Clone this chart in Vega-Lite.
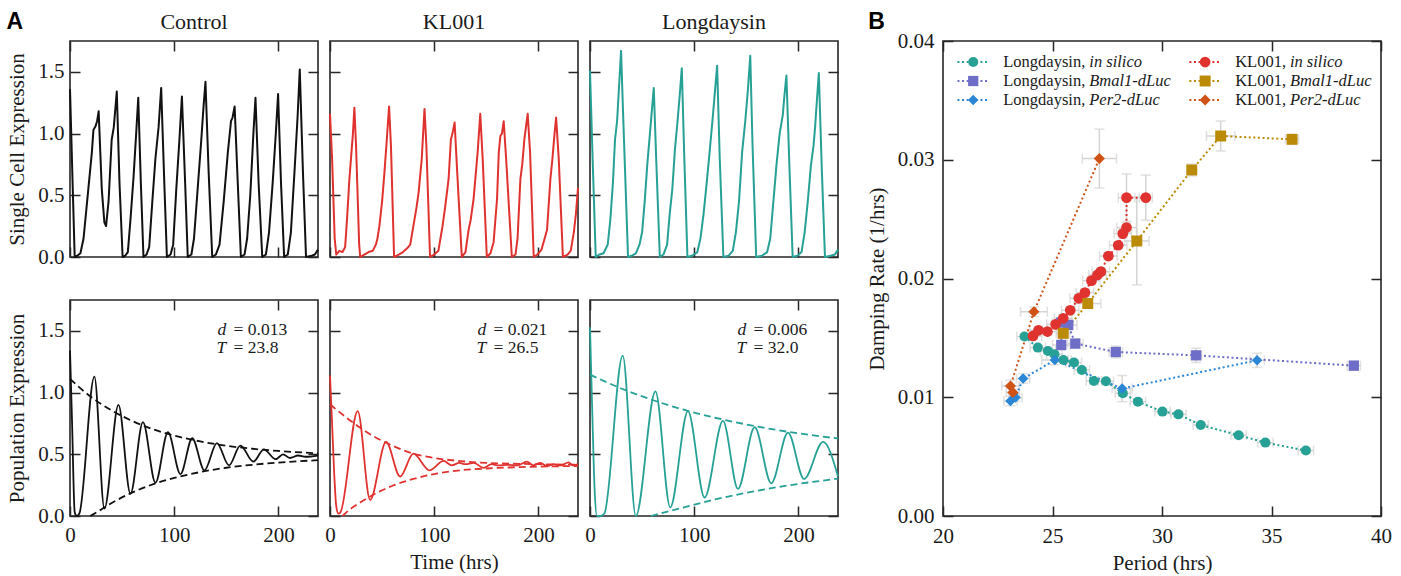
{
"$schema": "https://vega.github.io/schema/vega-lite/v6.json",
"padding": {"left": 5, "top": 9, "right": 0, "bottom": 0},
"spacing": 25,
"hconcat": [
{
"columns": 3,
"spacing": {"row": 31, "column": 3},
"concat": [
{"width": 248, "height": 216,
 "layer": [
  {"data": {"name": "c1"}, "mark": {"type": "line", "color": "#111111", "strokeWidth": 2, "strokeJoin": "round"},
   "encoding": {
    "x": {"field": "t", "type": "quantitative", "scale": {"domain": [0, 238], "nice": false, "zero": false}, "axis": {"values": [0, 100, 200], "labels": false, "title": null, "gridDash": [10, 196]}},
    "y": {"field": "v", "type": "quantitative", "scale": {"domain": [0, 1.75], "nice": false}, "axis": {"values": [0, 0.5, 1, 1.5], "format": ".1f", "title": "Single Cell Expression", "gridDash": [10, 228]}}}},
  {"data": {"values": [{}]}, "mark": {"type": "text", "font": "Liberation Serif", "fontSize": 22, "align": "center", "baseline": "alphabetic", "color": "#1a1a1a"}, "encoding": {"x": {"datum": 119}, "y": {"datum": 1.85}, "text": {"value": "Control"}}},
  {"data": {"values": [{}]}, "mark": {"type": "text", "font": "Liberation Sans", "fontWeight": "bold", "fontSize": 23, "align": "left", "baseline": "alphabetic", "color": "#000000"}, "encoding": {"x": {"datum": -61}, "y": {"datum": 1.847}, "text": {"value": "A"}}}
 ]},
{"width": 248, "height": 216,
 "layer": [
  {"data": {"name": "k1"}, "mark": {"type": "line", "color": "#e0322f", "strokeWidth": 2, "strokeJoin": "round"},
   "encoding": {
    "x": {"field": "t", "type": "quantitative", "scale": {"domain": [0, 238], "nice": false, "zero": false}, "axis": {"values": [0, 100, 200], "labels": false, "title": null, "gridDash": [10, 196]}},
    "y": {"field": "v", "type": "quantitative", "scale": {"domain": [0, 1.75], "nice": false}, "axis": {"values": [0, 0.5, 1, 1.5], "labels": false, "title": null, "gridDash": [10, 228]}}}},
  {"data": {"values": [{}]}, "mark": {"type": "text", "font": "Liberation Serif", "fontSize": 22, "align": "center", "baseline": "alphabetic", "color": "#1a1a1a"}, "encoding": {"x": {"datum": 119}, "y": {"datum": 1.85}, "text": {"value": "KL001"}}}
 ]},
{"width": 248, "height": 216,
 "layer": [
  {"data": {"name": "l1"}, "mark": {"type": "line", "color": "#27a195", "strokeWidth": 2, "strokeJoin": "round"},
   "encoding": {
    "x": {"field": "t", "type": "quantitative", "scale": {"domain": [0, 238], "nice": false, "zero": false}, "axis": {"values": [0, 100, 200], "labels": false, "title": null, "gridDash": [10, 196]}},
    "y": {"field": "v", "type": "quantitative", "scale": {"domain": [0, 1.75], "nice": false}, "axis": {"values": [0, 0.5, 1, 1.5], "labels": false, "title": null, "gridDash": [10, 228]}}}},
  {"data": {"values": [{}]}, "mark": {"type": "text", "font": "Liberation Serif", "fontSize": 22, "align": "center", "baseline": "alphabetic", "color": "#1a1a1a"}, "encoding": {"x": {"datum": 119}, "y": {"datum": 1.85}, "text": {"value": "Longdaysin"}}}
 ]},
{"width": 248, "height": 216,
 "layer": [
  {"data": {"name": "ce"}, "mark": {"type": "line", "color": "#111111", "strokeWidth": 1.8, "strokeDash": [7, 4], "strokeJoin": "round", "interpolate": "monotone"},
   "encoding": {
    "x": {"field": "t", "type": "quantitative", "scale": {"domain": [0, 238], "nice": false, "zero": false}, "axis": {"values": [0, 100, 200], "title": null, "gridDash": [10, 196]}},
    "y": {"field": "v", "type": "quantitative", "scale": {"domain": [0, 1.75], "nice": false}, "axis": {"values": [0, 0.5, 1, 1.5], "format": ".1f", "title": "Population Expression", "gridDash": [10, 228]}},
    "detail": {"field": "e"}}},
  {"data": {"name": "c2"}, "mark": {"type": "line", "color": "#111111", "strokeWidth": 1.8, "strokeJoin": "round", "interpolate": "monotone"},
   "encoding": {"x": {"field": "t", "type": "quantitative", "title": null}, "y": {"field": "v", "type": "quantitative", "title": "Population Expression"}}},
  {"data": {"values": [{}]}, "mark": {"type": "text", "font": "Liberation Serif", "fontStyle": "italic", "fontSize": 17.5, "align": "right", "baseline": "alphabetic", "lineHeight": 18.5, "color": "#1a1a1a"}, "encoding": {"x": {"datum": 150}, "y": {"datum": 1.47}, "text": {"value": ["d", "T"]}}},
  {"data": {"values": [{}]}, "mark": {"type": "text", "font": "Liberation Serif", "fontSize": 17.5, "align": "left", "baseline": "alphabetic", "lineHeight": 18.5, "color": "#1a1a1a"}, "encoding": {"x": {"datum": 157}, "y": {"datum": 1.47}, "text": {"value": ["= 0.013", "= 23.8"]}}}
 ]},
{"width": 248, "height": 216,
 "layer": [
  {"data": {"name": "ke"}, "mark": {"type": "line", "color": "#e0322f", "strokeWidth": 1.8, "strokeDash": [7, 4], "strokeJoin": "round", "interpolate": "monotone"},
   "encoding": {
    "x": {"field": "t", "type": "quantitative", "scale": {"domain": [0, 238], "nice": false, "zero": false}, "axis": {"values": [0, 100, 200], "title": "Time (hrs)", "gridDash": [10, 196]}},
    "y": {"field": "v", "type": "quantitative", "scale": {"domain": [0, 1.75], "nice": false}, "axis": {"values": [0, 0.5, 1, 1.5], "labels": false, "title": null, "gridDash": [10, 228]}},
    "detail": {"field": "e"}}},
  {"data": {"name": "k2"}, "mark": {"type": "line", "color": "#e0322f", "strokeWidth": 1.8, "strokeJoin": "round", "interpolate": "monotone"},
   "encoding": {"x": {"field": "t", "type": "quantitative", "title": "Time (hrs)"}, "y": {"field": "v", "type": "quantitative", "title": null}}},
  {"data": {"values": [{}]}, "mark": {"type": "text", "font": "Liberation Serif", "fontStyle": "italic", "fontSize": 17.5, "align": "right", "baseline": "alphabetic", "lineHeight": 18.5, "color": "#1a1a1a"}, "encoding": {"x": {"datum": 150}, "y": {"datum": 1.47}, "text": {"value": ["d", "T"]}}},
  {"data": {"values": [{}]}, "mark": {"type": "text", "font": "Liberation Serif", "fontSize": 17.5, "align": "left", "baseline": "alphabetic", "lineHeight": 18.5, "color": "#1a1a1a"}, "encoding": {"x": {"datum": 157}, "y": {"datum": 1.47}, "text": {"value": ["= 0.021", "= 26.5"]}}}
 ]},
{"width": 248, "height": 216,
 "layer": [
  {"data": {"name": "le"}, "mark": {"type": "line", "color": "#27a195", "strokeWidth": 1.8, "strokeDash": [7, 4], "strokeJoin": "round", "interpolate": "monotone"},
   "encoding": {
    "x": {"field": "t", "type": "quantitative", "scale": {"domain": [0, 238], "nice": false, "zero": false}, "axis": {"values": [0, 100, 200], "title": null, "gridDash": [10, 196]}},
    "y": {"field": "v", "type": "quantitative", "scale": {"domain": [0, 1.75], "nice": false}, "axis": {"values": [0, 0.5, 1, 1.5], "labels": false, "title": null, "gridDash": [10, 228]}},
    "detail": {"field": "e"}}},
  {"data": {"name": "l2"}, "mark": {"type": "line", "color": "#27a195", "strokeWidth": 1.8, "strokeJoin": "round", "interpolate": "monotone"},
   "encoding": {"x": {"field": "t", "type": "quantitative", "title": null}, "y": {"field": "v", "type": "quantitative", "title": null}}},
  {"data": {"values": [{}]}, "mark": {"type": "text", "font": "Liberation Serif", "fontStyle": "italic", "fontSize": 17.5, "align": "right", "baseline": "alphabetic", "lineHeight": 18.5, "color": "#1a1a1a"}, "encoding": {"x": {"datum": 150}, "y": {"datum": 1.47}, "text": {"value": ["d", "T"]}}},
  {"data": {"values": [{}]}, "mark": {"type": "text", "font": "Liberation Serif", "fontSize": 17.5, "align": "left", "baseline": "alphabetic", "lineHeight": 18.5, "color": "#1a1a1a"}, "encoding": {"x": {"datum": 157}, "y": {"datum": 1.47}, "text": {"value": ["= 0.006", "= 32.0"]}}}
 ]}
]
},
{
"width": 438, "height": 475,
"layer": [
 {"data": {"name": "b"}, "mark": {"type": "errorbar", "color": "#d4d4d4", "thickness": 1.5, "ticks": {"size": 10}},
  "encoding": {
   "x": {"field": "xlo", "type": "quantitative", "title": "Period (hrs)", "scale": {"domain": [20, 40], "nice": false, "zero": false}, "axis": {"values": [20, 25, 30, 35, 40], "gridDash": [10, 455], "labelPadding": 9}},
   "x2": {"field": "xhi"},
   "y": {"field": "D", "type": "quantitative", "title": "Damping Rate (1/hrs)", "scale": {"domain": [0, 0.04], "nice": false, "zero": false}, "axis": {"values": [0, 0.01, 0.02, 0.03, 0.04], "format": ".2f", "gridDash": [10, 418], "labelPadding": 9}}}},
 {"data": {"name": "b"}, "mark": {"type": "errorbar", "color": "#d4d4d4", "thickness": 1.5, "ticks": {"size": 10}},
  "encoding": {
   "x": {"field": "P", "type": "quantitative", "title": "Period (hrs)"},
   "y": {"field": "ylo", "type": "quantitative", "title": "Damping Rate (1/hrs)"},
   "y2": {"field": "yhi"}}},
 {"data": {"name": "b"}, "mark": {"type": "line", "strokeDash": [2, 2.6], "strokeWidth": 2, "strokeJoin": "round"},
  "encoding": {
   "x": {"field": "P", "type": "quantitative", "title": "Period (hrs)"},
   "y": {"field": "D", "type": "quantitative", "title": "Damping Rate (1/hrs)"},
   "color": {"field": "s", "type": "nominal", "legend": null, "scale": {"domain": ["Ld_sil", "Ld_bmal", "Ld_per2", "KL_sil", "KL_bmal", "KL_per2"], "range": ["#27a195", "#6e6ec8", "#2b86d6", "#e0322f", "#bb8a06", "#cf5317"]}},
   "order": {"field": "i", "type": "quantitative"}}},
 {"data": {"name": "b"}, "mark": {"type": "point", "filled": true, "opacity": 1},
  "encoding": {
   "x": {"field": "P", "type": "quantitative", "title": "Period (hrs)"},
   "y": {"field": "D", "type": "quantitative", "title": "Damping Rate (1/hrs)"},
   "color": {"field": "s", "type": "nominal", "legend": null},
   "size": {"field": "s", "type": "nominal", "legend": null, "scale": {"domain": ["Ld_sil", "Ld_bmal", "Ld_per2", "KL_sil", "KL_bmal", "KL_per2"], "range": [100, 125, 175, 100, 125, 175]}},
   "shape": {"field": "s", "type": "nominal", "legend": null, "scale": {"domain": ["Ld_sil", "Ld_bmal", "Ld_per2", "KL_sil", "KL_bmal", "KL_per2"], "range": ["circle", "square", "diamond", "circle", "square", "diamond"]}}}},
 {"data": {"name": "leg"}, "transform": [{"filter": "datum.col == 0"}], "mark": {"type": "rule", "strokeDash": [2, 2.6], "strokeWidth": 2},
  "encoding": {"x": {"datum": 20.66}, "x2": {"datum": 22.03}, "y": {"datum": 0.03823}, "yOffset": {"field": "row", "type": "quantitative", "scale": {"domain": [0, 2], "range": [0, 38]}}, "color": {"field": "s", "type": "nominal", "legend": null}}},
 {"data": {"name": "leg"}, "transform": [{"filter": "datum.col == 1"}], "mark": {"type": "rule", "strokeDash": [2, 2.6], "strokeWidth": 2},
  "encoding": {"x": {"datum": 31.25}, "x2": {"datum": 32.61}, "y": {"datum": 0.03823}, "yOffset": {"field": "row", "type": "quantitative", "scale": {"domain": [0, 2], "range": [0, 38]}}, "color": {"field": "s", "type": "nominal", "legend": null}}},
 {"data": {"name": "leg"}, "transform": [{"filter": "datum.col == 0"}], "mark": {"type": "point", "filled": true, "opacity": 1},
  "encoding": {"x": {"datum": 21.38}, "y": {"datum": 0.03823}, "yOffset": {"field": "row", "type": "quantitative", "scale": {"domain": [0, 2], "range": [0, 38]}}, "color": {"field": "s", "type": "nominal", "legend": null}, "size": {"field": "s", "type": "nominal", "legend": null}, "shape": {"field": "s", "type": "nominal", "legend": null}}},
 {"data": {"name": "leg"}, "transform": [{"filter": "datum.col == 1"}], "mark": {"type": "point", "filled": true, "opacity": 1},
  "encoding": {"x": {"datum": 31.97}, "y": {"datum": 0.03823}, "yOffset": {"field": "row", "type": "quantitative", "scale": {"domain": [0, 2], "range": [0, 38]}}, "color": {"field": "s", "type": "nominal", "legend": null}, "size": {"field": "s", "type": "nominal", "legend": null}, "shape": {"field": "s", "type": "nominal", "legend": null}}},
 {"data": {"name": "leg"}, "transform": [{"filter": "datum.col == 0"}], "mark": {"type": "text", "font": "Liberation Serif", "fontSize": 16.5, "align": "left", "baseline": "middle", "color": "#1a1a1a"},
  "encoding": {"x": {"datum": 22.75}, "y": {"datum": 0.03823}, "yOffset": {"field": "row", "type": "quantitative", "scale": {"domain": [0, 2], "range": [0, 38]}}, "text": {"field": "name"}}},
 {"data": {"name": "leg"}, "transform": [{"filter": "datum.col == 1"}], "mark": {"type": "text", "font": "Liberation Serif", "fontSize": 16.5, "align": "left", "baseline": "middle", "color": "#1a1a1a"},
  "encoding": {"x": {"datum": 33.34}, "y": {"datum": 0.03823}, "yOffset": {"field": "row", "type": "quantitative", "scale": {"domain": [0, 2], "range": [0, 38]}}, "text": {"field": "name"}}},
 {"data": {"name": "leg"}, "transform": [{"filter": "datum.col == 0"}], "mark": {"type": "text", "font": "Liberation Serif", "fontStyle": "italic", "fontSize": 16.5, "align": "left", "baseline": "middle", "color": "#1a1a1a"},
  "encoding": {"x": {"datum": 26.68}, "y": {"datum": 0.03823}, "yOffset": {"field": "row", "type": "quantitative", "scale": {"domain": [0, 2], "range": [0, 38]}}, "text": {"field": "ital"}}},
 {"data": {"name": "leg"}, "transform": [{"filter": "datum.col == 1"}], "mark": {"type": "text", "font": "Liberation Serif", "fontStyle": "italic", "fontSize": 16.5, "align": "left", "baseline": "middle", "color": "#1a1a1a"},
  "encoding": {"x": {"datum": 35.84}, "y": {"datum": 0.03823}, "yOffset": {"field": "row", "type": "quantitative", "scale": {"domain": [0, 2], "range": [0, 38]}}, "text": {"field": "ital"}}},
 {"data": {"values": [{}]}, "mark": {"type": "text", "font": "Liberation Sans", "fontWeight": "bold", "fontSize": 23, "align": "left", "baseline": "alphabetic", "color": "#000000"},
  "encoding": {"x": {"datum": 16.59}, "y": {"datum": 0.04099}, "text": {"value": "B"}}}
]
}
],
"datasets": {
"c1": [{"t":0,"v":1.36},{"t":2.5,"v":0.6},{"t":4.5,"v":0},{"t":7,"v":0.01},{"t":10,"v":0.03},{"t":13,"v":0.15},{"t":17,"v":0.5},{"t":21,"v":0.85},{"t":22.5,"v":1.03},{"t":24.5,"v":1.06},{"t":26,"v":1.1},{"t":27.5,"v":1.18},{"t":30.5,"v":0.55},{"t":33,"v":0.28},{"t":34.6,"v":0.25},{"t":37,"v":0.45},{"t":40,"v":0.95},{"t":42,"v":1.05},{"t":44.9,"v":1.34},{"t":47.5,"v":0.6},{"t":50.5,"v":0},{"t":53,"v":0.01},{"t":55.5,"v":0.04},{"t":58,"v":0.3},{"t":61,"v":0.65},{"t":63.5,"v":1.0},{"t":65.5,"v":1.29},{"t":68,"v":0.6},{"t":70.5,"v":0},{"t":73.5,"v":0.02},{"t":76,"v":0.08},{"t":79,"v":0.45},{"t":82,"v":0.8},{"t":85,"v":1.05},{"t":87.5,"v":1.37},{"t":90.5,"v":0.6},{"t":93,"v":0},{"t":96.5,"v":0.02},{"t":99,"v":0.1},{"t":102,"v":0.55},{"t":105,"v":0.95},{"t":107.4,"v":1.3},{"t":110.5,"v":0.6},{"t":113,"v":0},{"t":116.5,"v":0.02},{"t":119,"v":0.15},{"t":122.5,"v":0.55},{"t":126,"v":0.95},{"t":128,"v":1.2},{"t":130,"v":1.42},{"t":133,"v":0.7},{"t":136.5,"v":0},{"t":140,"v":0.02},{"t":143.5,"v":0.1},{"t":147.5,"v":0.45},{"t":151.5,"v":0.85},{"t":154.5,"v":1.1},{"t":156,"v":1.13},{"t":158,"v":1.22},{"t":161,"v":0.6},{"t":164,"v":0},{"t":167.5,"v":0.02},{"t":170,"v":0.15},{"t":173,"v":0.5},{"t":176,"v":1.0},{"t":178,"v":1.29},{"t":181,"v":0.6},{"t":184.5,"v":0},{"t":188,"v":0.02},{"t":191,"v":0.2},{"t":194.5,"v":0.6},{"t":197.5,"v":1.0},{"t":199.7,"v":1.32},{"t":202.5,"v":0.6},{"t":205.5,"v":0},{"t":209,"v":0.02},{"t":212,"v":0.2},{"t":215.5,"v":0.7},{"t":218.5,"v":1.15},{"t":220.5,"v":1.52},{"t":223.5,"v":0.7},{"t":226.5,"v":0},{"t":232,"v":0.01},{"t":235,"v":0.02},{"t":238,"v":0.06}],
"k1": [{"t":0,"v":1.16},{"t":2,"v":0.8},{"t":4.5,"v":0.15},{"t":6,"v":0.02},{"t":9,"v":0.05},{"t":12,"v":0.04},{"t":14.5,"v":0.08},{"t":15.5,"v":0.2},{"t":17,"v":0.4},{"t":18.6,"v":0.63},{"t":20.8,"v":0.87},{"t":22,"v":1.0},{"t":23.4,"v":1.21},{"t":25,"v":0.9},{"t":28,"v":0.1},{"t":29,"v":0},{"t":33,"v":0.02},{"t":37,"v":0.04},{"t":41,"v":0.05},{"t":44,"v":0.1},{"t":45.5,"v":0.15},{"t":47.4,"v":0.25},{"t":50,"v":0.45},{"t":52.2,"v":0.68},{"t":54.5,"v":0.95},{"t":56.7,"v":1.22},{"t":58.5,"v":0.9},{"t":61.5,"v":0},{"t":66,"v":0.02},{"t":70,"v":0.04},{"t":74,"v":0.07},{"t":77,"v":0.1},{"t":80,"v":0.25},{"t":83,"v":0.4},{"t":85,"v":0.52},{"t":88,"v":0.79},{"t":90.7,"v":1.2},{"t":92.5,"v":0.9},{"t":96,"v":0},{"t":100,"v":0.02},{"t":104,"v":0.05},{"t":106,"v":0.15},{"t":108,"v":0.25},{"t":110.6,"v":0.41},{"t":113.8,"v":0.63},{"t":116,"v":0.95},{"t":117.5,"v":1.0},{"t":119.6,"v":1.09},{"t":122,"v":0.7},{"t":126.5,"v":0},{"t":130,"v":0.04},{"t":133,"v":0.22},{"t":135,"v":0.3},{"t":137.8,"v":0.47},{"t":141.7,"v":0.85},{"t":144.2,"v":1.16},{"t":146.5,"v":0.8},{"t":150.5,"v":0},{"t":154,"v":0.03},{"t":157,"v":0.12},{"t":160.3,"v":0.47},{"t":162,"v":0.85},{"t":163.5,"v":0.98},{"t":165,"v":1.0},{"t":166.7,"v":1.1},{"t":169,"v":0.8},{"t":174.5,"v":0},{"t":178,"v":0.02},{"t":180,"v":0.15},{"t":182.7,"v":0.63},{"t":184.5,"v":0.75},{"t":186.5,"v":0.95},{"t":189.7,"v":1.16},{"t":192,"v":0.85},{"t":195.5,"v":0},{"t":199,"v":0.02},{"t":203,"v":0.06},{"t":206,"v":0.15},{"t":208.3,"v":0.22},{"t":211.5,"v":0.63},{"t":213.5,"v":0.8},{"t":215.5,"v":1.0},{"t":217,"v":1.13},{"t":219.5,"v":0.8},{"t":223.5,"v":0},{"t":228,"v":0.02},{"t":231,"v":0.05},{"t":234,"v":0.2},{"t":236,"v":0.35},{"t":238,"v":0.56}],
"l1": [{"t":0,"v":1.51},{"t":2.5,"v":0.8},{"t":5.5,"v":0},{"t":9,"v":0.02},{"t":13,"v":0.03},{"t":17,"v":0.1},{"t":19.5,"v":0.3},{"t":22,"v":0.6},{"t":24,"v":0.95},{"t":26,"v":1.1},{"t":28,"v":1.4},{"t":29.8,"v":1.67},{"t":32,"v":1.1},{"t":36.5,"v":0},{"t":40,"v":0.01},{"t":44,"v":0.03},{"t":47.5,"v":0.1},{"t":50,"v":0.2},{"t":52.5,"v":0.45},{"t":55,"v":0.75},{"t":57.5,"v":1.0},{"t":59.5,"v":1.2},{"t":61.2,"v":1.37},{"t":63.5,"v":0.8},{"t":67,"v":0},{"t":70.5,"v":0.02},{"t":74,"v":0.1},{"t":76.5,"v":0.35},{"t":79,"v":0.55},{"t":81.5,"v":0.87},{"t":84,"v":1.1},{"t":86,"v":1.3},{"t":88.1,"v":1.53},{"t":90.5,"v":0.8},{"t":93.5,"v":0},{"t":98,"v":0.01},{"t":103,"v":0.04},{"t":106,"v":0.15},{"t":109,"v":0.35},{"t":112,"v":0.6},{"t":115,"v":0.87},{"t":118,"v":1.15},{"t":120,"v":1.35},{"t":122,"v":1.55},{"t":124.5,"v":0.8},{"t":128,"v":0},{"t":133,"v":0.01},{"t":137,"v":0.05},{"t":140,"v":0.2},{"t":143,"v":0.45},{"t":146,"v":0.85},{"t":149,"v":1.1},{"t":151.5,"v":1.35},{"t":153.8,"v":1.63},{"t":156,"v":0.9},{"t":159.5,"v":0},{"t":165,"v":0.01},{"t":170,"v":0.04},{"t":173,"v":0.15},{"t":176,"v":0.45},{"t":179,"v":0.75},{"t":182,"v":1.0},{"t":185,"v":1.15},{"t":186.5,"v":1.3},{"t":188.5,"v":1.47},{"t":191.5,"v":0.7},{"t":194.5,"v":0},{"t":199,"v":0.01},{"t":203,"v":0.04},{"t":206,"v":0.2},{"t":209,"v":0.45},{"t":212,"v":0.74},{"t":214.5,"v":0.9},{"t":216,"v":1.05},{"t":218,"v":1.3},{"t":219.6,"v":1.49},{"t":222.5,"v":0.7},{"t":225.5,"v":0},{"t":231,"v":0.01},{"t":235,"v":0.02},{"t":238,"v":0.06}],
"c2": [{"t":0,"v":1.34},{"t":2,"v":0.75},{"t":4.5,"v":0.03},{"t":6.5,"v":0},{"t":9,"v":0.02},{"t":23.4,"v":1.13},{"t":33,"v":0.06},{"t":46.5,"v":0.9},{"t":58,"v":0.18},{"t":70,"v":0.76},{"t":82,"v":0.27},{"t":94,"v":0.68},{"t":106,"v":0.34},{"t":117.3,"v":0.63},{"t":129,"v":0.37},{"t":141,"v":0.59},{"t":152.6,"v":0.41},{"t":163.5,"v":0.57},{"t":176,"v":0.44},{"t":186,"v":0.54},{"t":197.4,"v":0.46},{"t":204.5,"v":0.5},{"t":211,"v":0.47},{"t":219,"v":0.49},{"t":226,"v":0.48},{"t":238,"v":0.49}],
"k2": [{"t":0,"v":1.14},{"t":2,"v":0.75},{"t":4,"v":0.35},{"t":6,"v":0.08},{"t":8,"v":0.02},{"t":10,"v":0.03},{"t":26.6,"v":0.85},{"t":38.5,"v":0.13},{"t":53.8,"v":0.6},{"t":67.3,"v":0.32},{"t":80,"v":0.505},{"t":95.5,"v":0.37},{"t":109,"v":0.446},{"t":117,"v":0.41},{"t":124,"v":0.43},{"t":130,"v":0.42},{"t":138,"v":0.43},{"t":147.4,"v":0.39},{"t":155,"v":0.42},{"t":162,"v":0.41},{"t":170,"v":0.415},{"t":180,"v":0.41},{"t":189,"v":0.44},{"t":195,"v":0.41},{"t":202,"v":0.43},{"t":208,"v":0.405},{"t":215,"v":0.42},{"t":222,"v":0.41},{"t":229,"v":0.435},{"t":233,"v":0.41},{"t":238,"v":0.42}],
"l2": [{"t":0,"v":1.53},{"t":2,"v":0.9},{"t":4.5,"v":0.2},{"t":6.7,"v":0},{"t":10,"v":0},{"t":13.8,"v":0.02},{"t":31.4,"v":1.3},{"t":44,"v":0},{"t":62.8,"v":1.01},{"t":77,"v":0.07},{"t":94,"v":0.85},{"t":110,"v":0.15},{"t":127.6,"v":0.77},{"t":142,"v":0.22},{"t":158,"v":0.72},{"t":174,"v":0.265},{"t":190,"v":0.676},{"t":205.4,"v":0.3},{"t":223.7,"v":0.6},{"t":238,"v":0.32}],
"ce": [{"e":"u","t":0,"v":1.11},{"e":"u","t":20,"v":0.966},{"e":"u","t":40,"v":0.855},{"e":"u","t":60,"v":0.769},{"e":"u","t":80,"v":0.702},{"e":"u","t":100,"v":0.652},{"e":"u","t":125,"v":0.604},{"e":"u","t":150,"v":0.569},{"e":"u","t":175,"v":0.545},{"e":"u","t":200,"v":0.527},{"e":"u","t":238,"v":0.508},{"e":"l","t":19.5,"v":0},{"e":"l","t":30,"v":0.053},{"e":"l","t":40,"v":0.105},{"e":"l","t":60,"v":0.191},{"e":"l","t":80,"v":0.258},{"e":"l","t":100,"v":0.308},{"e":"l","t":125,"v":0.356},{"e":"l","t":150,"v":0.391},{"e":"l","t":175,"v":0.415},{"e":"l","t":200,"v":0.433},{"e":"l","t":238,"v":0.452}],
"ke": [{"e":"u","t":0,"v":0.905},{"e":"u","t":20,"v":0.77},{"e":"u","t":40,"v":0.655},{"e":"u","t":60,"v":0.57},{"e":"u","t":80,"v":0.505},{"e":"u","t":100,"v":0.47},{"e":"u","t":125,"v":0.445},{"e":"u","t":150,"v":0.43},{"e":"u","t":200,"v":0.42},{"e":"u","t":238,"v":0.415},{"e":"l","t":12,"v":0},{"e":"l","t":20,"v":0.06},{"e":"l","t":30,"v":0.115},{"e":"l","t":40,"v":0.165},{"e":"l","t":60,"v":0.245},{"e":"l","t":80,"v":0.3},{"e":"l","t":100,"v":0.34},{"e":"l","t":125,"v":0.37},{"e":"l","t":150,"v":0.385},{"e":"l","t":200,"v":0.4},{"e":"l","t":238,"v":0.405}],
"le": [{"e":"u","t":0,"v":1.145},{"e":"u","t":30,"v":1.033},{"e":"u","t":60,"v":0.94},{"e":"u","t":90,"v":0.861},{"e":"u","t":120,"v":0.796},{"e":"u","t":150,"v":0.742},{"e":"u","t":180,"v":0.696},{"e":"u","t":210,"v":0.658},{"e":"u","t":238,"v":0.628},{"e":"l","t":58.5,"v":0},{"e":"l","t":90,"v":0.069},{"e":"l","t":120,"v":0.134},{"e":"l","t":150,"v":0.188},{"e":"l","t":180,"v":0.234},{"e":"l","t":210,"v":0.272},{"e":"l","t":238,"v":0.302}],
"b": [
{"s":"Ld_sil","i":1,"P":23.72,"D":0.01511,"xlo":23.37,"xhi":24.07,"ylo":0.01491,"yhi":0.01531},
{"s":"Ld_sil","i":2,"P":24.33,"D":0.01418,"xlo":23.98,"xhi":24.68,"ylo":0.01398,"yhi":0.01438},
{"s":"Ld_sil","i":3,"P":24.79,"D":0.0139,"xlo":24.44,"xhi":25.14,"ylo":0.0137,"yhi":0.0141},
{"s":"Ld_sil","i":4,"P":25.09,"D":0.01362,"xlo":24.74,"xhi":25.44,"ylo":0.01342,"yhi":0.01382},
{"s":"Ld_sil","i":5,"P":25.5,"D":0.01314,"xlo":25.15,"xhi":25.85,"ylo":0.01294,"yhi":0.01334},
{"s":"Ld_sil","i":6,"P":25.98,"D":0.01292,"xlo":25.63,"xhi":26.33,"ylo":0.01272,"yhi":0.01312},
{"s":"Ld_sil","i":7,"P":26.34,"D":0.0123,"xlo":25.99,"xhi":26.69,"ylo":0.0121,"yhi":0.0125},
{"s":"Ld_sil","i":8,"P":26.89,"D":0.01137,"xlo":26.54,"xhi":27.24,"ylo":0.01117,"yhi":0.01157},
{"s":"Ld_sil","i":9,"P":27.44,"D":0.01134,"xlo":27.09,"xhi":27.79,"ylo":0.01114,"yhi":0.01154},
{"s":"Ld_sil","i":10,"P":28.21,"D":0.01033,"xlo":27.86,"xhi":28.56,"ylo":0.01013,"yhi":0.01053},
{"s":"Ld_sil","i":11,"P":28.9,"D":0.00963,"xlo":28.55,"xhi":29.25,"ylo":0.00943,"yhi":0.00983},
{"s":"Ld_sil","i":12,"P":30.02,"D":0.00879,"xlo":29.67,"xhi":30.37,"ylo":0.00859,"yhi":0.00899},
{"s":"Ld_sil","i":13,"P":30.75,"D":0.00856,"xlo":30.4,"xhi":31.1,"ylo":0.00836,"yhi":0.00876},
{"s":"Ld_sil","i":14,"P":31.77,"D":0.00766,"xlo":31.42,"xhi":32.12,"ylo":0.00746,"yhi":0.00786},
{"s":"Ld_sil","i":15,"P":33.5,"D":0.0068,"xlo":33.15,"xhi":33.85,"ylo":0.0066,"yhi":0.007},
{"s":"Ld_sil","i":16,"P":34.72,"D":0.00618,"xlo":34.37,"xhi":35.07,"ylo":0.00598,"yhi":0.00638},
{"s":"Ld_sil","i":17,"P":36.57,"D":0.00551,"xlo":36.22,"xhi":36.92,"ylo":0.00531,"yhi":0.00571},
{"s":"Ld_bmal","i":1,"P":25.4,"D":0.0144,"xlo":25.0,"xhi":25.8,"ylo":0.014,"yhi":0.0148},
{"s":"Ld_bmal","i":2,"P":25.4,"D":0.01629,"xlo":25.0,"xhi":25.8,"ylo":0.01589,"yhi":0.01669},
{"s":"Ld_bmal","i":3,"P":25.72,"D":0.01609,"xlo":25.32,"xhi":26.12,"ylo":0.01569,"yhi":0.01649},
{"s":"Ld_bmal","i":4,"P":26.04,"D":0.01452,"xlo":25.69,"xhi":26.39,"ylo":0.01412,"yhi":0.01492},
{"s":"Ld_bmal","i":5,"P":27.89,"D":0.01381,"xlo":27.59,"xhi":28.19,"ylo":0.01331,"yhi":0.01431},
{"s":"Ld_bmal","i":6,"P":31.56,"D":0.01353,"xlo":31.31,"xhi":31.81,"ylo":0.01293,"yhi":0.01413},
{"s":"Ld_bmal","i":7,"P":38.76,"D":0.01266,"xlo":38.46,"xhi":39.06,"ylo":0.01226,"yhi":0.01306},
{"s":"Ld_per2","i":1,"P":23.08,"D":0.00968,"xlo":22.78,"xhi":23.38,"ylo":0.00928,"yhi":0.01008},
{"s":"Ld_per2","i":2,"P":23.31,"D":0.00997,"xlo":23.01,"xhi":23.61,"ylo":0.00967,"yhi":0.01027},
{"s":"Ld_per2","i":3,"P":23.66,"D":0.01157,"xlo":23.36,"xhi":23.96,"ylo":0.01117,"yhi":0.01197},
{"s":"Ld_per2","i":4,"P":25.11,"D":0.01314,"xlo":24.51,"xhi":25.71,"ylo":0.01274,"yhi":0.01354},
{"s":"Ld_per2","i":5,"P":28.18,"D":0.01073,"xlo":27.72,"xhi":28.64,"ylo":0.00963,"yhi":0.01183},
{"s":"Ld_per2","i":6,"P":34.34,"D":0.01311,"xlo":34.0,"xhi":34.68,"ylo":0.01251,"yhi":0.01371},
{"s":"KL_sil","i":1,"P":24.11,"D":0.01516,"xlo":23.71,"xhi":24.51,"ylo":0.01486,"yhi":0.01546},
{"s":"KL_sil","i":2,"P":24.36,"D":0.01564,"xlo":23.96,"xhi":24.76,"ylo":0.01534,"yhi":0.01594},
{"s":"KL_sil","i":3,"P":24.77,"D":0.01553,"xlo":24.37,"xhi":25.17,"ylo":0.01523,"yhi":0.01583},
{"s":"KL_sil","i":4,"P":25.14,"D":0.01614,"xlo":24.74,"xhi":25.54,"ylo":0.01584,"yhi":0.01644},
{"s":"KL_sil","i":5,"P":25.49,"D":0.01665,"xlo":25.09,"xhi":25.89,"ylo":0.01635,"yhi":0.01695},
{"s":"KL_sil","i":6,"P":25.81,"D":0.01732,"xlo":25.41,"xhi":26.21,"ylo":0.01702,"yhi":0.01762},
{"s":"KL_sil","i":7,"P":26.2,"D":0.01833,"xlo":25.8,"xhi":26.6,"ylo":0.01803,"yhi":0.01863},
{"s":"KL_sil","i":8,"P":26.48,"D":0.01881,"xlo":26.08,"xhi":26.88,"ylo":0.01851,"yhi":0.01911},
{"s":"KL_sil","i":9,"P":26.78,"D":0.01982,"xlo":26.38,"xhi":27.18,"ylo":0.01952,"yhi":0.02012},
{"s":"KL_sil","i":10,"P":27.05,"D":0.0203,"xlo":26.65,"xhi":27.45,"ylo":0.02,"yhi":0.0206},
{"s":"KL_sil","i":11,"P":27.21,"D":0.02058,"xlo":26.81,"xhi":27.61,"ylo":0.02028,"yhi":0.02088},
{"s":"KL_sil","i":12,"P":27.55,"D":0.02189,"xlo":27.15,"xhi":27.95,"ylo":0.02159,"yhi":0.02219},
{"s":"KL_sil","i":13,"P":28.0,"D":0.0228,"xlo":27.6,"xhi":28.4,"ylo":0.0225,"yhi":0.0231},
{"s":"KL_sil","i":14,"P":28.21,"D":0.02378,"xlo":27.81,"xhi":28.61,"ylo":0.02338,"yhi":0.02418},
{"s":"KL_sil","i":15,"P":28.38,"D":0.02429,"xlo":27.93,"xhi":28.83,"ylo":0.02389,"yhi":0.02469},
{"s":"KL_sil","i":16,"P":28.38,"D":0.02681,"xlo":28.0,"xhi":28.76,"ylo":0.02481,"yhi":0.02881},
{"s":"KL_sil","i":17,"P":29.26,"D":0.02681,"xlo":28.96,"xhi":29.56,"ylo":0.02491,"yhi":0.02871},
{"s":"KL_bmal","i":1,"P":25.49,"D":0.01538,"xlo":25.19,"xhi":25.79,"ylo":0.01508,"yhi":0.01568},
{"s":"KL_bmal","i":2,"P":26.61,"D":0.01789,"xlo":26.01,"xhi":27.21,"ylo":0.01759,"yhi":0.01819},
{"s":"KL_bmal","i":3,"P":28.85,"D":0.02316,"xlo":28.29,"xhi":29.41,"ylo":0.01946,"yhi":0.02686},
{"s":"KL_bmal","i":4,"P":31.36,"D":0.02914,"xlo":31.21,"xhi":31.51,"ylo":0.02864,"yhi":0.02964},
{"s":"KL_bmal","i":5,"P":32.68,"D":0.032,"xlo":32.03,"xhi":33.33,"ylo":0.03074,"yhi":0.03326},
{"s":"KL_bmal","i":6,"P":35.94,"D":0.03172,"xlo":35.64,"xhi":36.24,"ylo":0.03132,"yhi":0.03212},
{"s":"KL_per2","i":1,"P":23.19,"D":0.0104,"xlo":22.89,"xhi":23.49,"ylo":0.0101,"yhi":0.0107},
{"s":"KL_per2","i":2,"P":23.08,"D":0.01095,"xlo":22.68,"xhi":23.48,"ylo":0.01045,"yhi":0.01145},
{"s":"KL_per2","i":3,"P":24.15,"D":0.0172,"xlo":23.54,"xhi":24.76,"ylo":0.0168,"yhi":0.0176},
{"s":"KL_per2","i":4,"P":27.14,"D":0.0301,"xlo":26.36,"xhi":27.92,"ylo":0.02762,"yhi":0.03258}
],
"leg": [
{"s":"Ld_sil","name":"Longdaysin,","ital":"in silico","col":0,"row":0},
{"s":"Ld_bmal","name":"Longdaysin,","ital":"Bmal1-dLuc","col":0,"row":1},
{"s":"Ld_per2","name":"Longdaysin,","ital":"Per2-dLuc","col":0,"row":2},
{"s":"KL_sil","name":"KL001,","ital":"in silico","col":1,"row":0},
{"s":"KL_bmal","name":"KL001,","ital":"Bmal1-dLuc","col":1,"row":1},
{"s":"KL_per2","name":"KL001,","ital":"Per2-dLuc","col":1,"row":2}
]
},
"config": {
"font": "Liberation Serif",
"view": {"stroke": "#262626", "strokeWidth": 1.6},
"axis": {"labelFont": "Liberation Serif", "labelFontSize": 21, "labelColor": "#1a1a1a", "titleFont": "Liberation Serif", "titleFontSize": 21, "titleFontWeight": "normal", "titleColor": "#1a1a1a", "ticks": false, "domain": false, "grid": true, "gridColor": "#262626", "gridWidth": 1.5, "gridOpacity": 1},
"axisX": {"labelPadding": 8, "titlePadding": 6, "labelFlush": false},
"axisY": {"labelPadding": 6, "titlePadding": 10, "labelFlush": false}
}
}
